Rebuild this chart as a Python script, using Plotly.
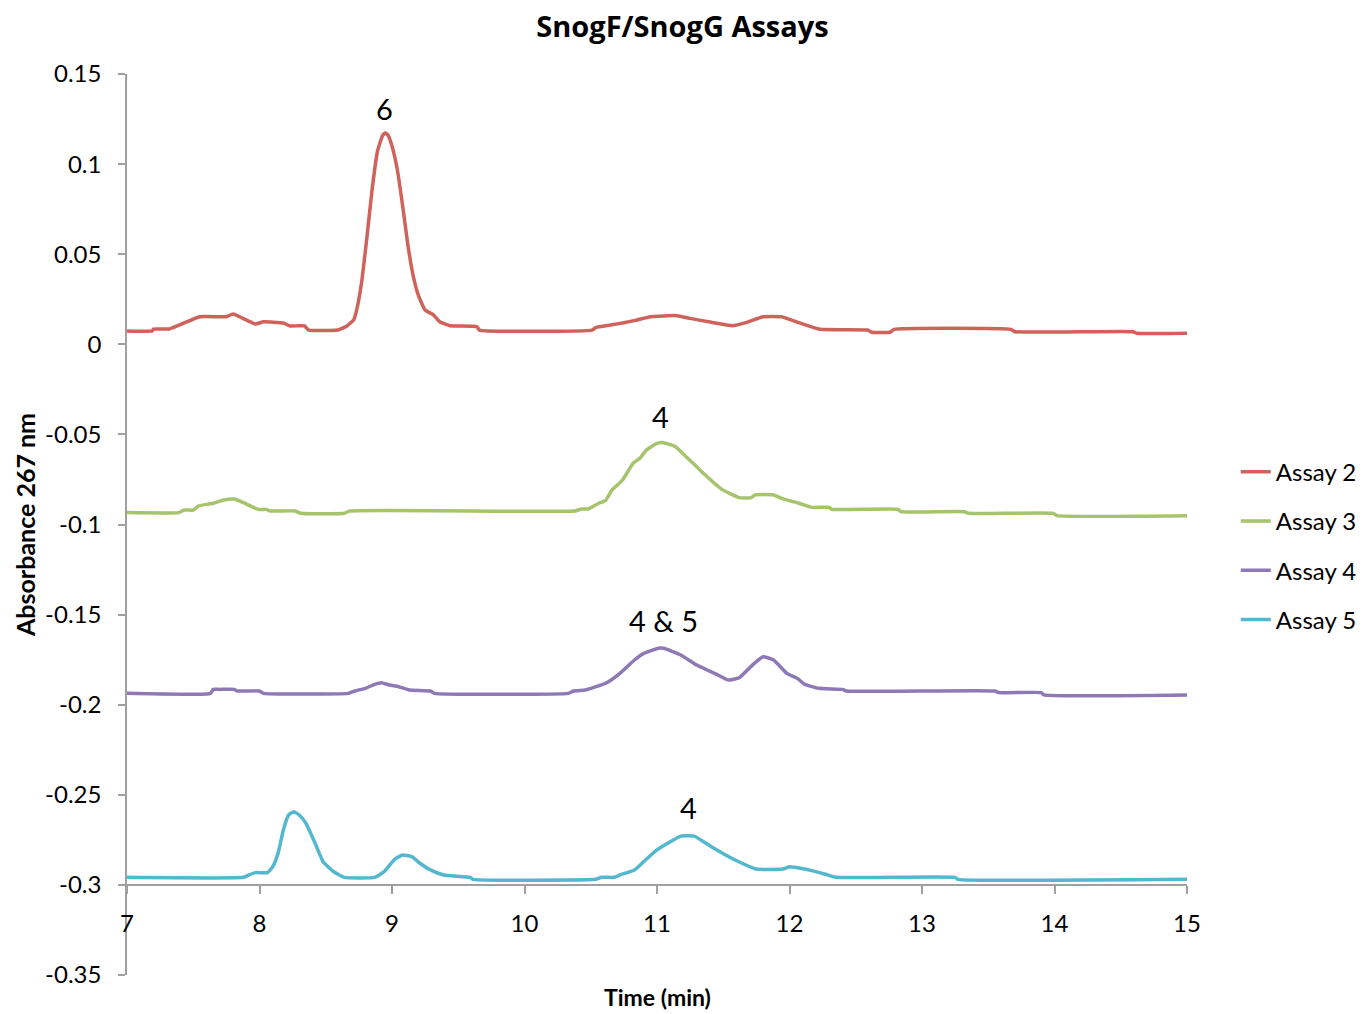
import plotly.graph_objects as go

# ---- data ----
assay2_x = [7.0, 7.19, 7.2, 7.32, 7.55, 7.75, 7.8, 7.97, 8.03, 8.18, 8.23, 8.34, 8.37, 8.59, 8.66, 8.71,
            8.73, 8.77, 8.81, 8.85, 8.89, 8.93, 8.95, 8.97, 9.0, 9.04, 9.08, 9.12, 9.16, 9.2, 9.25,
            9.31, 9.36, 9.44, 9.64, 9.66, 10.51, 10.54, 10.65, 10.75, 10.85, 10.95, 11.15, 11.25, 11.41,
            11.57, 11.67, 11.8, 11.94, 12.07, 12.23, 12.59, 12.62, 12.76, 12.79, 13.67, 13.7, 14.59,
            14.62, 15.0]
assay2_y = [0.0074, 0.0074, 0.0085, 0.0085, 0.0153, 0.0153, 0.0168, 0.0113, 0.0125, 0.0118, 0.0102, 0.0102,
            0.0079, 0.0079, 0.0102, 0.0135, 0.018, 0.034, 0.059, 0.086, 0.107, 0.116, 0.1173, 0.116, 0.110,
            0.097, 0.077, 0.055, 0.038, 0.027, 0.019, 0.0165, 0.0125, 0.0103, 0.0098, 0.0079, 0.0079,
            0.0094, 0.0107, 0.012, 0.0135, 0.0153, 0.0159, 0.0144, 0.0122, 0.0103, 0.012, 0.0153, 0.0153,
            0.012, 0.0083, 0.0079, 0.0067, 0.0067, 0.0083, 0.0083, 0.007, 0.007, 0.0061, 0.0061]

assay3_x = [7.0, 7.39, 7.43, 7.5, 7.54, 7.65, 7.73, 7.81, 7.88, 7.99, 8.05, 8.08, 8.27, 8.31, 8.64, 8.68,
            10.38, 10.43, 10.48, 10.56, 10.61, 10.66, 10.74, 10.82, 10.87, 10.92, 11.0, 11.05, 11.14, 11.22,
            11.3, 11.35, 11.49, 11.62, 11.71, 11.74, 11.88, 11.94, 12.07, 12.17, 12.3, 12.32, 12.82, 12.84,
            13.32, 13.35, 13.99, 14.02, 15.0]
assay3_y = [-0.0934, -0.0934, -0.092, -0.092, -0.0897, -0.0882, -0.0864, -0.0859, -0.0879, -0.0916,
            -0.0916, -0.0925, -0.0925, -0.0938, -0.0938, -0.0925, -0.0925, -0.0914, -0.0914, -0.0882,
            -0.0868, -0.0809, -0.0753, -0.066, -0.0633, -0.0587, -0.055, -0.0546, -0.0568, -0.0624,
            -0.0679, -0.0716, -0.0805, -0.0851, -0.0851, -0.0836, -0.0836, -0.0855, -0.0882, -0.0905,
            -0.0905, -0.0916, -0.0916, -0.0929, -0.0929, -0.0938, -0.0938, -0.0951, -0.0951]

assay4_x = [7.0, 7.63, 7.65, 7.7, 7.81, 7.83, 8.0, 8.03, 8.67, 8.72, 8.8, 8.87, 8.92, 8.98, 9.05, 9.13,
            9.29, 9.32, 10.33, 10.37, 10.46, 10.54, 10.62, 10.72, 10.83, 10.9, 11.01, 11.05, 11.18, 11.3,
            11.46, 11.54, 11.62, 11.72, 11.8, 11.88, 11.98, 12.06, 12.11, 12.22, 12.4, 12.43, 13.55,
            13.58, 13.9, 13.92, 15.0]
assay4_y = [-0.1937, -0.1937, -0.1915, -0.1915, -0.1915, -0.1924, -0.1924, -0.1937, -0.1937, -0.1924,
            -0.1909, -0.1887, -0.1878, -0.1891, -0.19, -0.1918, -0.1924, -0.1937, -0.1937, -0.1924,
            -0.1918, -0.1900, -0.1878, -0.1826, -0.1752, -0.1715, -0.1687, -0.1687, -0.1724, -0.178,
            -0.1835, -0.1863, -0.185, -0.178, -0.1734, -0.1752, -0.1826, -0.1854, -0.1885, -0.1909,
            -0.1915, -0.1924, -0.1924, -0.1933, -0.1933, -0.1946, -0.1946]

assay5_x = [7.0, 7.88, 7.92, 7.97, 8.06, 8.1, 8.14, 8.18, 8.22, 8.26, 8.3, 8.35, 8.42, 8.48, 8.56, 8.64,
            8.87, 8.94, 9.02, 9.08, 9.15, 9.21, 9.29, 9.39, 9.59, 9.61, 10.54, 10.58, 10.68, 10.72, 10.83,
            10.9, 11.0, 11.18, 11.28, 11.41, 11.59, 11.75, 11.95, 12.0, 12.05, 12.17, 12.27, 12.35, 13.25,
            13.27, 15.0]
assay5_y = [-0.2958, -0.2958, -0.2945, -0.2932, -0.2932, -0.2899, -0.2825, -0.2695, -0.2612, -0.2594,
            -0.2612, -0.2658, -0.2769, -0.2871, -0.2927, -0.2958, -0.2958, -0.2927, -0.2858, -0.2834,
            -0.2843, -0.288, -0.2917, -0.2945, -0.2958, -0.2969, -0.2969, -0.2958, -0.2958, -0.2945,
            -0.2917, -0.2871, -0.2806, -0.2729, -0.2729, -0.2788, -0.2862, -0.2912, -0.2912, -0.2899,
            -0.2903, -0.2921, -0.2941, -0.2958, -0.2958, -0.2969, -0.2969]

series_names = ["Assay 2", "Assay 3", "Assay 4", "Assay 5"]
series_colors = ["#CF625A", "#A6C46B", "#8E78B6", "#52B7CF"]

peak_labels = ["6", "4", "4 & 5", "4"]
peak_label_x = [8.94, 11.03, 11.05, 11.24]
peak_label_y = [0.131, -0.040, -0.153, -0.257]

x_ticks = [7, 8, 9, 10, 11, 12, 13, 14, 15]
y_tickvals = [0.15, 0.1, 0.05, 0, -0.05, -0.1, -0.15, -0.2, -0.25, -0.3, -0.35]
y_ticktext = ["0.15", "0.1", "0.05", "0", "-0.05", "-0.1", "-0.15", "-0.2", "-0.25", "-0.3", "-0.35"]

FONT = "Lato"
AXIS_GREY = "#A0A0A0"

fig = go.Figure()
for name, color, xs, ys in zip(series_names, series_colors,
                               [assay2_x, assay3_x, assay4_x, assay5_x],
                               [assay2_y, assay3_y, assay4_y, assay5_y]):
    fig.add_trace(go.Scatter(x=xs, y=ys, mode="lines", name=name, legendgroup=name,
                             line=dict(color=color, width=3.5, shape="spline", smoothing=0.4)))

for txt, lx, ly in zip(peak_labels, peak_label_x, peak_label_y):
    fig.add_annotation(x=lx, y=ly, text=txt, showarrow=False,
                       font=dict(family=FONT, size=29, color="black"))

fig.add_annotation(x=0.5, y=-0.0244, xref="paper", yref="paper", text="<b>Time (min)</b>",
                   showarrow=False, yanchor="middle",
                   font=dict(family=FONT, size=23, color="black"))

fig.update_layout(
    width=1365, height=1014,
    margin=dict(l=127, r=178, t=74, b=39, autoexpand=False),
    paper_bgcolor="white", plot_bgcolor="white",
    title=dict(text="<b>SnogF/SnogG Assays</b>", x=0.5, xref="container",
               y=1 - 27 / 1014, yref="container", yanchor="middle",
               font=dict(family="Open Sans", size=29, color="black")),
    font=dict(family=FONT, size=24, color="black"),
    showlegend=True,
    legend=dict(x=1.046, y=0.583, xanchor="left", yanchor="top",
                font=dict(family=FONT, size=24, color="black"),
                tracegroupgap=15, traceorder="grouped", bgcolor="rgba(0,0,0,0)"),
    xaxis=dict(range=[7, 15], tickvals=x_ticks, ticktext=[str(t) for t in x_ticks],
               anchor="free", position=0.1, showgrid=False, zeroline=False,
               showline=True, linecolor=AXIS_GREY, linewidth=1.5,
               ticks="outside", ticklen=8, tickcolor=AXIS_GREY, tickwidth=1.5,
               ticklabelstandoff=10,
               tickfont=dict(family=FONT, size=24, color="black")),
    yaxis=dict(range=[-0.35, 0.15], tickvals=y_tickvals, ticktext=y_ticktext,
               showgrid=False, zeroline=False, showline=True, linecolor=AXIS_GREY, linewidth=1.5,
               ticks="outside", ticklen=7, tickcolor=AXIS_GREY, tickwidth=1.5,
               ticklabelstandoff=12,
               tickfont=dict(family=FONT, size=24, color="black")),
    yaxis_title=dict(text="<b>Absorbance 267 nm</b>", standoff=2,
                     font=dict(family=FONT, size=25, color="black")),
)

fig.write_html("out.html")
